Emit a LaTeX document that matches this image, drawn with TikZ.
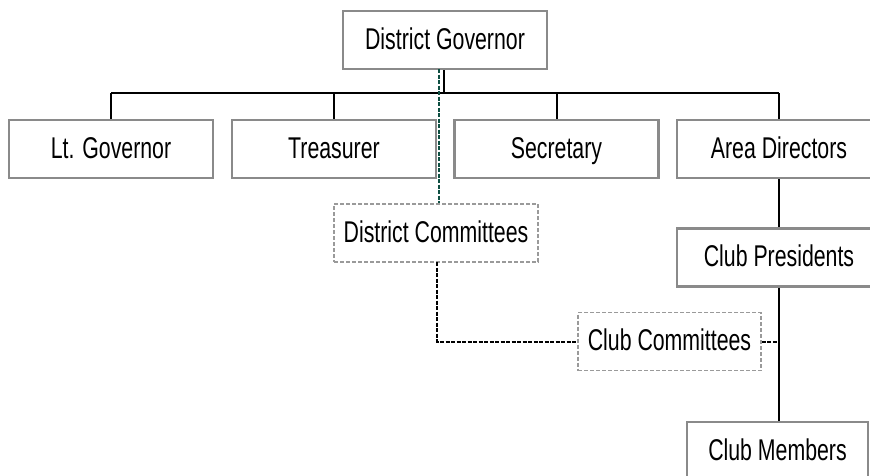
\documentclass[tikz,border=0pt]{standalone}
\usepackage{fontspec}
\newfontfamily\chartfont[FakeStretch=0.71]{Liberation Sans}
\definecolor{boxgray}{HTML}{8A8A8A}
\definecolor{dashgray}{HTML}{9A9A9A}
\definecolor{linkteal}{HTML}{0E4F42}
\begin{document}
\begin{tikzpicture}[x=1pt,y=-1pt,
  orgbox/.style={draw=boxgray,line width=2.2pt,fill=white,minimum width=204pt,
    minimum height=58pt,inner sep=0pt,text height=24pt,text depth=6pt,
    font=\chartfont\fontsize{30}{32}\selectfont},
  dashbox/.style={orgbox,draw=dashgray,line width=1.8pt,dash pattern=on 4pt off 2pt},
  link/.style={draw=black,line width=2pt},
  dashlink/.style={draw=black,line width=2pt,dash pattern=on 4pt off 1.5pt},
  greenlink/.style={draw=linkteal,line width=2pt,dash pattern=on 4pt off 1.5pt}]
\useasboundingbox (0,0) rectangle (870,475);
\clip (0,0) rectangle (870,475);
\fill[white] (0,0) rectangle (870,475);

% top of the chart
\node[orgbox] (gov) at (445,40) {District Governor};

% officers reporting to the governor
\node[orgbox] (lt)   at (111,149) {Lt. Governor};
\node[orgbox] (tre)  at (334,149) {Treasurer};
\node[orgbox] (sec)  at (556.5,149) {Secretary};
\node[orgbox] (area) at (779,149) {Area Directors};

% club level
\node[orgbox] (pres) at (779,257.5) {Club Presidents};
\node[orgbox,minimum width=181pt] (mem) at (777.5,451) {Club Members};

% committees (dashed)
\node[dashbox] (dcom) at (436,233) {District Committees};
\node[dashbox,minimum width=183pt] (ccom) at (669.5,341.5) {Club Committees};

% bus joining the officers
\coordinate (bus) at (444,93);
\coordinate (busL) at (111,93);
\coordinate (busR) at (779,93);
\draw[link] (busL) -- (busR);
\draw[link] (gov.south -| bus) -- (bus);
\draw[link] (busL) -- (lt.north);
\draw[link] (tre.north) -- (tre.north |- bus);
\draw[link] (sec.north) -- (sec.north |- bus);
\draw[link] (busR) -- (area.north);

% chain down to the members
\draw[link] (area.south) -- (pres.north);
\draw[link] (pres.south) -- (mem.north -| pres.south);

% committee links
\coordinate (gtap) at (439,69);
\draw[greenlink] (gtap) -- (gtap |- dcom.north);
\coordinate (dtap) at (437,262);
\draw[dashlink] (dtap) |- (ccom.west);
\draw[dashlink] (ccom.east) -- (ccom.east -| pres.south);
\end{tikzpicture}
\end{document}
